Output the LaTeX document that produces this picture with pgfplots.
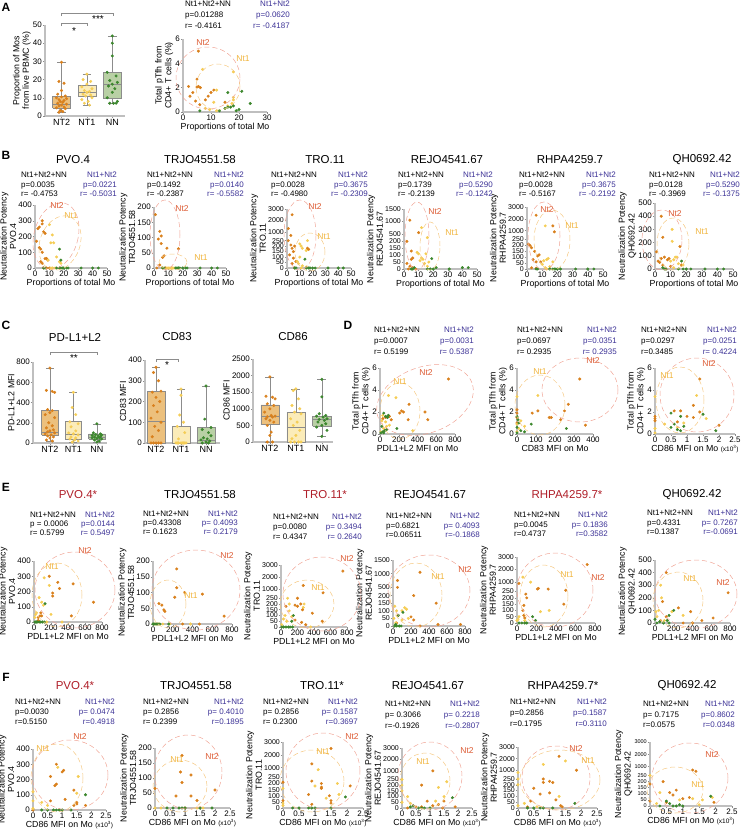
\documentclass[border=0pt]{standalone}
\usepackage{pgfplots}
\pgfplotsset{compat=1.18}
\usepackage{fontspec}
\setmainfont{Liberation Sans}
\definecolor{nt2c}{RGB}{217,128,28}
\definecolor{nt1c}{RGB}{245,205,85}
\definecolor{nnc}{RGB}{60,135,45}
\definecolor{nt2box}{RGB}{236,192,125}
\definecolor{nt1box}{RGB}{251,236,185}
\definecolor{nnbox}{RGB}{185,208,165}
\definecolor{bluec}{RGB}{60,50,150}
\definecolor{tred}{RGB}{175,30,40}
\definecolor{nt2ell}{RGB}{240,165,150}
\definecolor{nt1ell}{RGB}{245,200,130}
\definecolor{nt2lab}{RGB}{220,90,50}
\definecolor{nt1lab}{RGB}{240,180,60}
\pgfplotsset{
 base/.style={scale only axis, anchor=south west, clip=false,
   axis x line*=bottom, axis y line*=left,
   axis line style={-, draw=black!25, line width=1.1pt},
   major tick style={draw=black!45, line width=0.5pt}, tick align=outside, major tick length=2pt,
   tick label style={font=\fontsize{8}{8}\selectfont, inner sep=1pt},
   label style={font=\fontsize{8.8}{9.6}\selectfont},
   ylabel style={align=center, inner sep=1pt}, xlabel style={inner sep=1pt},
   /pgf/number format/assume math mode=true,
   /pgf/number format/1000 sep={},
   scaled ticks=false},
 sc/.style={base, xmin=0, ymin=0},
 s2/.style={only marks, mark=*, mark size=1.3pt, color=nt2c, mark options={solid, fill=nt2c, draw=nt2c}},
 s1/.style={only marks, mark=*, mark size=1.3pt, color=nt1c, mark options={solid, fill=nt1c, draw=nt1c}},
 s0/.style={only marks, mark=*, mark size=1.3pt, color=nnc, mark options={solid, fill=nnc, draw=nnc}},
 brk/.style 2 args={
   y coord trafo/.code={\pgfmathparse{(##1<#1)?(##1):(#1+(##1-#1)*#2)}},
   y coord inv trafo/.code={\pgfmathparse{(##1<#1)?(##1):(#1+(##1-#1)/#2)}},
   y tick label style={font=\fontsize{7}{7}\selectfont}},
 bx/.style={draw=black!45, line width=0.5pt, no marks},
}
% box: position, lower whisker, lower quartile, median, upper quartile, upper whisker, fill
\newcommand{\bxp}[7]{%
 \pgfmathsetmacro\bxl{#1-0.35}\pgfmathsetmacro\bxr{#1+0.35}\pgfmathsetmacro\bcl{#1-0.17}\pgfmathsetmacro\bcr{#1+0.17}%
 \edef\bxdo{%
 \noexpand\addplot[bx, fill=#7] coordinates {(\bxl,#3) (\bxr,#3) (\bxr,#5) (\bxl,#5) (\bxl,#3)};
 \noexpand\addplot[bx] coordinates {(\bxl,#4) (\bxr,#4)};
 \noexpand\addplot[bx] coordinates {(#1,#2) (#1,#3)};
 \noexpand\addplot[bx] coordinates {(#1,#5) (#1,#6)};
 \noexpand\addplot[bx] coordinates {(\bcl,#2) (\bcr,#2)};
 \noexpand\addplot[bx] coordinates {(\bcl,#6) (\bcr,#6)};}\bxdo}
\newcommand{\stats}[8]{%
 \node[anchor=north west, align=left, inner sep=0pt, font=\fontsize{8}{#4}\selectfont] at (#1pt,-#2pt) {Nt1+Nt2+NN\\#5\\#6};
 \node[anchor=north east, align=right, inner sep=0pt, text=bluec, font=\fontsize{8}{#4}\selectfont] at (#3pt,-#2pt) {Nt1+Nt2\\#7\\#8};}
\newcommand{\ellip}[6]{\draw[#6, dash pattern=on 5pt off 3pt, line width=0.5pt, rotate around={#5:(#1pt,-#2pt)}] (#1pt,-#2pt) ellipse ({#3pt} and {#4pt});}
\newcommand{\labA}[2]{\node[text=nt2lab, font=\fontsize{8.5}{9}\selectfont] at (#1pt,-#2pt) {Nt2};}
\newcommand{\labB}[2]{\node[text=nt1lab, font=\fontsize{8.5}{9}\selectfont] at (#1pt,-#2pt) {Nt1};}
\newcommand{\ttl}[4][black]{\node[text=#1, font=\fontsize{11.5}{12}\selectfont] at (#2pt,-#3pt) {#4};}
\newcommand{\letter}[3]{\node[font=\bfseries\fontsize{12}{12}\selectfont] at (#1pt,-#2pt) {#3};}
\newcommand{\cdl}{CD86 MFI on Mo {\fontsize{6.5}{7}\selectfont(x10\textsuperscript{3})}}
\begin{document}
\begin{tikzpicture}
\useasboundingbox (0pt,0pt) rectangle (740pt,-838pt);
% ---------------- A ----------------
\letter{6}{7}{A}
\begin{axis}[base, at={(45pt,-116pt)}, width=80pt, height=91pt, xmin=0.35, xmax=3.5, ymin=0, ymax=50,
  xtick={1,2,3}, xticklabels={NT2,NT1,NN}, ytick={0,10,...,50},
  x tick label style={font=\fontsize{9}{9}\selectfont},
  ylabel={Proportion of Mos\\from live PBMC (\%)}]
\bxp{1}{2}{4.4}{6.2}{10.8}{29.5}{nt2box}
\bxp{2}{6}{11}{13}{16.8}{23}{nt1box}
\bxp{3}{7}{10}{17.5}{24}{44}{nnbox}
\addplot[s2] coordinates {(1,29.5) (0.9,19) (1.1,18) (1,14) (0.85,12) (1.15,11) (1,10.5) (0.8,10) (1.2,9.5) (0.9,9) (1.1,8.5) (0.95,8) (1.05,7.5) (0.85,7) (1.2,6.5) (1,6) (0.9,5.5) (1.1,5) (0.8,4.5) (1.15,4) (0.95,3) (1.05,2.5) (0.9,2)};
\addplot[s1] coordinates {(2,23) (1.85,20) (2.15,19) (2,17.5) (1.8,16) (2.2,15) (1.9,14) (2.1,13.5) (2,13) (1.85,12) (2.15,11.5) (1.95,11) (2.2,10) (1.8,9) (2.05,8) (1.9,7) (2.1,6)};
\addplot[s0] coordinates {(3,44) (3,40) (3,33) (2.8,24) (3.15,22) (2.9,19.5) (3.2,18.5) (3,17.5) (2.85,16.5) (3.1,15) (3,13) (2.8,10) (3.2,8) (2.9,7) (3.05,7) (3.15,7)};
\end{axis}
\draw[black!45, line width=0.5pt] (61pt,-16pt) -- (61pt,-13pt) -- (113pt,-13pt) -- (113pt,-16pt);
\node[font=\fontsize{10}{10}\selectfont] at (98pt,-19pt) {***};
\draw[black!45, line width=0.5pt] (61pt,-26pt) -- (61pt,-23pt) -- (87pt,-23pt) -- (87pt,-26pt);
\node[font=\fontsize{10}{10}\selectfont] at (74pt,-31pt) {*};
\stats{185}{1}{290}{10.7}{p=0.01288}{r= -0.4161}{p=0.0620}{r= -0.4187}
\begin{axis}[sc, at={(183pt,-112pt)}, width=84pt, height=73pt, xmax=30, ymax=6, xtick={0,10,20,30}, ytick={0,2,4,6},
  xlabel={Proportions of total Mo}, ylabel={Total pTfh from\\CD4+ T cells (\%)}]
\addplot[s2] coordinates {(5.5,5) (5,2.7) (5,2.05) (5.5,2.1) (6.2,2.0) (2,2.1) (3.5,1.6) (2.5,1.3) (4.5,0.9) (9,1.3) (10,1.6) (11,1.8) (8,1.0) (6,0.6) (15,0.8)};
\addplot[s1] coordinates {(7,3.5) (18,3.3) (12,1.8) (18,1.2) (18,1.0) (17.5,0.7) (15,0.3) (12,0.1) (9.5,0.2) (8,0.3) (16,0.5) (11,0.8)};
\addplot[s0] coordinates {(16,1.6) (21,1.7) (24,0.7) (18,0.5) (17,0.4) (16,0.4) (15,0.3) (19,0.1) (6,0.1) (13,0.1) (20,0.2)};
\end{axis}
\ellip{208}{78}{32}{31}{0}{nt2ell}\ellip{218}{87}{22}{23}{0}{nt1ell}
\labA{203}{43}\labB{243}{59}
% ---------------- B ----------------
\letter{6}{155}{B}
\ttl{73}{160}{PVO.4}\ttl{200}{160}{TRJO4551.58}\ttl{325}{160}{TRO.11}\ttl{447}{160}{REJO4541.67}\ttl{570}{160}{RHPA4259.7}\ttl{702}{160}{QH0692.42}
\stats{21}{172}{117}{9.3}{p=0.0035}{r= -0.4753}{p=0.0221}{r= -0.5031}
\stats{147}{172}{244}{9.3}{p=0.1492}{r= -0.2387}{p=0.0140}{r= -0.5582}
\stats{271}{172}{368}{9.3}{p=0.0028}{r= -0.4980}{p=0.3675}{r= -0.2309}
\stats{398}{172}{493}{9.3}{p=0.1739}{r= -0.2139}{p=0.5290}{r= -0.1242}
\stats{519}{172}{616}{9.3}{p=0.0028}{r= -0.5167}{p=0.3675}{r= -0.2192}
\stats{649}{172}{740}{9.3}{p=0.0128}{r= -0.3969}{p=0.5290}{r= -0.1375}
\begin{axis}[sc, at={(35pt,-268pt)}, width=72pt, height=63pt, xmax=50, ymax=400, xtick={0,10,...,50}, ytick={0,100,...,400},
  xlabel={Proportions of total Mo}, ylabel={Neutralization Potency\\PVO.4}]
\addplot[s2] coordinates {(2,250) (3,260) (5,300) (5,280) (6,230) (7,220) (1,170) (3,130) (4,120) (5,100) (7,60) (8,60) (9,50) (4,40) (5,30) (10,0) (6,0) (8,0)};
\addplot[s1] coordinates {(10,275) (12,210) (11,160) (13,160) (15,70) (17,40) (18,30) (11,0) (14,0) (9,50) (12,0)};
\addplot[s0] coordinates {(17,120) (18,50) (15,0) (17,0) (18,0) (19,0) (20,0) (22,0) (23,0) (32,0) (40,0) (44,0) (6,0) (7,0)};
\end{axis}
\begin{axis}[sc, at={(154pt,-268pt)}, width=72pt, height=61pt, xmax=50, ymax=200, xtick={0,10,...,50}, ytick={0,50,...,200},
  xlabel={Proportions of total Mo}, ylabel={Neutralization Potency\\TRJO4551.58}]
\addplot[s2] coordinates {(1,175) (4,120) (5,105) (3,95) (5,80) (9,65) (17,63) (7,40) (6,35) (4,10) (2,0) (8,0) (12,0)};
\addplot[s1] coordinates {(9,0) (10,0) (11,0) (12,0) (14,0) (6,0) (13,0)};
\addplot[s0] coordinates {(15,0) (16,0) (17,0) (18,0) (20,0) (22,0) (23,0) (32,0) (40,0) (44,0) (6,0) (7,0)};
\end{axis}
\begin{axis}[sc, brk={250}{0.105}, at={(287pt,-268pt)}, width=64pt, height=59pt, xmax=50, ymax=3000, xtick={0,10,...,50},
  ytick={0,50,100,150,200,250,1000,2000,3000}, yticklabels={0,50,100,150,200,250,1000,2000,3000},
  xlabel={Proportions of total Mo}, ylabel={Neutralization Potency\\TRO.11}]
\addplot[s2] coordinates {(4,2500) (1,1300) (3,700) (1,250) (3,210) (4,180) (6,200) (5,150) (2,120) (5,90) (7,60) (4,40) (16,180) (17,170) (6,0)};
\addplot[s1] coordinates {(10,220) (11,200) (16,250) (12,180) (15,160) (10,100) (8,60) (9,40) (12,20) (15,10) (11,0)};
\addplot[s0] coordinates {(14,80) (15,0) (17,0) (18,0) (20,0) (22,0) (32,0) (40,0) (44,0) (6,0) (7,0)};
\end{axis}
\begin{axis}[sc, brk={200}{0.18}, at={(404pt,-269pt)}, width=73pt, height=60pt, xmax=50, ymax=1500, xtick={0,10,...,50},
  ytick={0,50,100,150,200,500,1000,1500}, yticklabels={0,50,100,150,200,500,1000,1500},
  xlabel={Proportions of total Mo}, ylabel={Neutralization Potency\\REJO4541.67}]
\addplot[s2] coordinates {(4,1050) (10,550) (2,200) (5,130) (6,80) (5,70) (2,40) (4,20) (6,10) (8,0) (3,0)};
\addplot[s1] coordinates {(12,750) (16,350) (9,120) (10,110) (15,110) (12,80) (13,70) (11,60) (14,40) (16,20) (17,50)};
\addplot[s0] coordinates {(19,75) (6,0) (7,10) (5,0) (16,0) (18,0) (20,0) (22,10) (31,0) (40,10) (44,10)};
\end{axis}
\begin{axis}[sc, brk={250}{0.1}, at={(527pt,-269pt)}, width=76pt, height=62pt, xmax=50, ymax=3000, xtick={0,10,...,50},
  ytick={0,50,100,150,200,250,1000,2000,3000}, yticklabels={0,50,100,150,200,250,1000,2000,3000},
  xlabel={Proportions of total Mo}, ylabel={Neutralization Potency\\RHPA4259.7}]
\addplot[s2] coordinates {(6,2300) (17,1400) (18,900) (1,210) (2,200) (3,180) (5,150) (8,120) (7,110) (4,80) (6,60) (9,60) (3,10) (6,5)};
\addplot[s1] coordinates {(12,1400) (14,90) (13,80) (11,70) (17,60) (10,40) (15,20) (12,10) (13,0)};
\addplot[s0] coordinates {(6,0) (7,0) (15,0) (17,0) (18,0) (19,0) (20,0) (22,0) (32,0) (40,0) (44,0)};
\end{axis}
\begin{axis}[sc, at={(655pt,-269pt)}, width=78pt, height=66pt, xmax=50, ymax=500, xtick={0,10,...,50}, ytick={0,100,...,500},
  xlabel={Proportions of total Mo}, ylabel={Neutralization Potency\\QH0692.42}]
\addplot[s2] coordinates {(4,400) (5,240) (1,130) (2,60) (3,50) (4,80) (6,90) (9,80) (8,70) (5,30) (10,20) (16,170) (17,30) (7,0)};
\addplot[s1] coordinates {(11,300) (11,210) (13,90) (12,70) (14,90) (18,30) (15,40) (10,60) (12,10)};
\addplot[s0] coordinates {(17,60) (5,10) (6,0) (7,0) (15,0) (18,0) (20,0) (23,0) (32,0) (40,0) (44,0)};
\end{axis}
\ellip{56}{236}{22}{34}{-15}{nt2ell}\ellip{60}{243}{20}{28}{-20}{nt1ell}\labA{57}{206}\labB{71}{216}
\ellip{165}{235}{15}{35}{0}{nt2ell}\ellip{173}{262}{14}{8}{0}{nt1ell}\labA{182}{209}\labB{201}{258}
\ellip{300}{235}{16}{35}{0}{nt2ell}\ellip{310}{252}{15}{19}{0}{nt1ell}\labA{315}{207}\labB{324}{237}
\ellip{417}{236}{12}{34}{0}{nt2ell}\ellip{430}{246}{10}{24}{0}{nt1ell}\labA{435}{212}\labB{452}{233}
\ellip{544}{236}{16}{34}{0}{nt2ell}\ellip{552}{240}{18}{30}{0}{nt1ell}\labA{547}{210}\labB{572}{226}
\ellip{662}{240}{20}{30}{0}{nt2ell}\ellip{673}{244}{16}{26}{0}{nt1ell}\labA{675}{214}\labB{702}{232}
% ---------------- C ----------------
\letter{6}{325}{C}
\ttl{75}{337}{PD-L1+L2}\ttl{177}{337}{CD83}\ttl{293}{337}{CD86}
\begin{axis}[base, at={(33pt,-443pt)}, width=74pt, height=81pt, xmin=0.28, xmax=3.43, ymin=0, ymax=800,
  xtick={1,2,3}, xticklabels={NT2,NT1,NN}, ytick={0,200,...,800}, x tick label style={font=\fontsize{9}{9}\selectfont},
  ylabel={PD-L1+L2 MFI}]
\bxp{1}{15}{80}{110}{320}{740}{nt2box}
\bxp{2}{10}{40}{90}{210}{500}{nt1box}
\bxp{3}{10}{40}{60}{90}{190}{nnbox}
\addplot[s2] coordinates {(1,740) (0.85,520) (1.1,510) (1.2,500) (0.9,330) (1.1,320) (1,300) (0.8,280) (1.2,250) (0.95,200) (1.1,170) (0.85,150) (1.15,130) (1,120) (0.9,110) (1.2,100) (0.8,90) (1.05,80) (0.9,70) (1.15,60) (1,50) (0.85,30) (1.1,20)};
\addplot[s1] coordinates {(2,500) (1.95,350) (2.1,280) (1.85,210) (2.2,190) (1.9,160) (2.1,120) (1.8,100) (2,90) (2.2,80) (1.9,60) (2.1,50) (1.85,40) (2.05,30) (2.2,20) (1.95,10)};
\addplot[s0] coordinates {(3,190) (2.85,100) (3.15,90) (2.95,85) (3.2,80) (2.8,75) (3.05,70) (3.15,65) (2.9,60) (3.1,55) (2.8,50) (3,45) (3.2,40) (2.9,30) (3.1,20) (3,10)};
\end{axis}
\draw[black!45, line width=0.5pt] (50pt,-355pt) -- (50pt,-352pt) -- (97pt,-352pt) -- (97pt,-355pt);
\node[font=\fontsize{10}{10}\selectfont] at (74pt,-358pt) {**};
\begin{axis}[base, at={(145pt,-443pt)}, width=75pt, height=83pt, xmin=0.56, xmax=3.56, ymin=0, ymax=400,
  xtick={1,2,3}, xticklabels={NT2,NT1,NN}, ytick={0,100,...,400}, x tick label style={font=\fontsize{9}{9}\selectfont},
  ylabel={CD83 MFI}]
\bxp{1}{0}{0}{105}{248}{365}{nt2box}
\bxp{2}{0}{0}{0}{80}{260}{nt1box}
\bxp{3}{0}{0}{15}{75}{275}{nnbox}
\addplot[s2] coordinates {(1,365) (0.9,340) (1.1,300) (1.2,250) (0.85,245) (1,220) (1.15,200) (0.9,180) (1.05,150) (0.8,120) (1.2,100) (0.95,80) (1.1,60) (0.85,30) (0.8,0) (0.9,0) (1,0) (1.1,0) (1.2,0)};
\addplot[s1] coordinates {(2,260) (2,230) (1.95,135) (2.1,100) (1.85,80) (2.15,50) (1.9,20) (1.8,0) (1.9,0) (2,0) (2.1,0) (2.2,0) (1.85,0) (2.05,0) (2.15,0)};
\addplot[s0] coordinates {(3,275) (2.95,115) (3.2,75) (2.85,65) (3.1,50) (3.2,35) (2.9,25) (3.05,20) (2.8,15) (3.15,10) (3,5) (2.85,0) (3.1,0)};
\end{axis}
\draw[black!45, line width=0.5pt] (156pt,-362pt) -- (156pt,-359pt) -- (178pt,-359pt) -- (178pt,-362pt);
\node[font=\fontsize{10}{10}\selectfont] at (167pt,-365pt) {*};
\begin{axis}[base, at={(253pt,-442pt)}, width=80pt, height=83pt, xmin=0.35, xmax=3.43, ymin=0, ymax=2500,
  xtick={1,2,3}, xticklabels={NT2,NT1,NN}, ytick={0,500,...,2500}, x tick label style={font=\fontsize{9}{9}\selectfont},
  ylabel={CD86 MFI}]
\bxp{1}{0}{520}{770}{1120}{1960}{nt2box}
\bxp{2}{0}{0}{430}{900}{1600}{nt1box}
\bxp{3}{160}{480}{680}{780}{1890}{nnbox}
\addplot[s2] coordinates {(1,1960) (0.85,1380) (1.1,1350) (1.2,1300) (0.9,1150) (1.15,1100) (1,1000) (0.8,900) (1.05,800) (1.2,780) (0.9,760) (1.1,750) (0.85,700) (1,650) (1.15,600) (0.9,500) (1.05,300) (1,200) (0.9,0) (1.1,0)};
\addplot[s1] coordinates {(2,1600) (1.9,1550) (2.1,1300) (1.85,1100) (2.15,1000) (1.95,900) (2.2,850) (1.8,700) (2.05,600) (1.9,500) (2.15,350) (2,200) (1.85,100) (1.8,0) (1.95,0) (2.1,0) (2.2,0)};
\addplot[s0] coordinates {(3,1890) (3,1360) (2.9,850) (3.15,800) (2.8,780) (3.05,750) (3.2,700) (2.9,680) (3.1,650) (2.85,600) (3.15,550) (3,500) (2.8,450) (3.2,350) (3,170)};
\end{axis}
% ---------------- D ----------------
\letter{348}{325}{D}
\stats{374}{327}{474}{11}{p=0.0007}{r= 0.5199}{p=0.0031}{r= 0.5387}
\stats{517}{327}{617}{11}{p=0.0697}{r= 0.2935}{p=0.0351}{r= 0.2935}
\stats{641}{327}{737}{11}{p=0.0297}{r=0.3485}{p=0.0251}{r= 0.4224}
\begin{axis}[sc, at={(380pt,-434pt)}, width=75pt, height=66pt, xmax=800, ymax=6, xtick={0,200,...,800}, ytick={0,2,4,6},
  xlabel={PDL1+L2 MFI on Mo}, ylabel={Total pTfh from\\CD4+ T cells (\%)}]
\addplot[s2] coordinates {(730,5) (310,2.7) (230,2.1) (250,2.0) (210,1.9) (100,1.6) (60,1.5) (480,2.0) (510,1.3) (300,1.3) (120,1.3) (30,1.4)};
\addplot[s1] coordinates {(90,3.5) (170,3.3) (30,1.7) (20,1.2) (60,1.1) (80,1.6) (100,0.8) (350,0.3) (10,0.2) (40,0.5) (70,0.7)};
\addplot[s0] coordinates {(40,1.9) (60,1.6) (90,1.7) (80,1.5) (20,0.7) (180,0.5) (50,0.3) (30,0.2) (70,0.4) (10,0.1) (40,0.1)};
\end{axis}
\begin{axis}[sc, at={(517pt,-434pt)}, width=76pt, height=66pt, xmax=400, ymax=6, xtick={0,100,...,400}, ytick={0,2,4,6},
  xlabel={CD83 MFI on Mo}, ylabel={Total pTfh from\\CD4+ T cells (\%)}]
\addplot[s2] coordinates {(330,5) (270,2.7) (250,2.1) (110,2.1) (80,1.9) (180,1.5) (170,1.5) (230,1.3) (360,0.8) (0,2.2) (0,1.9) (0,1.5) (0,1.0)};
\addplot[s1] coordinates {(0,3.4) (110,3.5) (20,1.2) (40,0.7) (0,0.9) (10,0.5) (0,0.2)};
\addplot[s0] coordinates {(0,1.6) (5,1.3) (10,1.0) (75,0.9) (0,0.6) (20,0.3) (260,0.5) (0,0.1) (40,0.2)};
\end{axis}
\begin{axis}[sc, at={(655pt,-434pt)}, width=80pt, height=66pt, xmax=2.5, ymax=6, xtick={0,0.5,...,2.5}, ytick={0,2,4,6},
  xlabel={\cdl}, ylabel={Total pTfh from\\CD4+ T cells (\%)}]
\addplot[s2] coordinates {(1.4,5) (1.2,2.6) (0.6,2.1) (0.8,2.1) (1.4,2.0) (1.0,1.6) (1.2,1.5) (2.0,0.8) (0.7,1.1) (0,1.4) (0,1.2) (0,1.6)};
\addplot[s1] coordinates {(0,3.4) (1.3,3.5) (1.6,1.4) (0.3,0.9) (0.9,1.0) (0,0.5) (0,0.1) (0.7,0.6)};
\addplot[s0] coordinates {(0.5,1.9) (0.8,1.6) (1.5,1.8) (0.5,0.6) (0.7,0.4) (0.6,0.9) (1.9,0.3) (0.8,0.3) (0.9,0.7)};
\end{axis}
\ellip{425}{400}{50}{33}{20}{nt2ell}\ellip{400}{411}{20}{28}{0}{nt1ell}\labA{426}{373}\labB{400}{382}
\ellip{580}{390}{38}{32}{0}{nt2ell}\ellip{540}{405}{25}{30}{0}{nt1ell}\labA{593}{361}\labB{540}{372}
\ellip{697}{395}{37}{37}{0}{nt2ell}\ellip{680}{400}{24}{33}{0}{nt1ell}\labA{709}{364}\labB{667}{376}
% ---------------- E ----------------
\letter{6}{487}{E}
\ttl[tred]{78}{495}{PVO.4*}\ttl{200}{495}{TRJO4551.58}\ttl[tred]{325}{495}{TRO.11*}\ttl{430}{495}{REJO4541.67}\ttl[tred]{567}{495}{RHPA4259.7*}\ttl{692}{495}{QH0692.42}
\stats{30}{512}{115}{9}{p = 0.0006}{r= 0.5799}{p=0.0144}{r= 0.5497}
\stats{143}{511}{238}{9}{p=0.43308}{r= 0.1623}{p= 0.4093}{r= 0.2179}
\stats{273}{514}{362}{10}{p=0.0080}{r= 0.4347}{p= 0.3494}{r= 0.2640}
\stats{386}{513}{480}{9.5}{p=0.6821}{r=0.06511}{p= 0.4093}{r=-0.1868}
\stats{514}{512}{608}{9.5}{p=0.0045}{r=0.4737}{p= 0.1836}{r=0.3582}
\stats{647}{510}{738}{9.5}{p=0.4331}{r=0.1387}{p= 0.7267}{r=-0.0691}
\begin{axis}[sc, at={(34pt,-622pt)}, width=68pt, height=61pt, xmax=800, ymax=400, xtick={0,200,...,800}, ytick={0,100,...,400},
  xlabel={PDL1+L2 MFI on Mo}, ylabel={Neutralization Potency\\PVO.4}]
\addplot[s2] coordinates {(180,300) (280,260) (300,220) (220,190) (220,170) (460,250) (700,130) (440,40) (80,60) (70,40) (50,30) (90,40) (50,10) (60,0)};
\addplot[s1] coordinates {(120,290) (180,240) (60,160) (90,130) (110,110) (30,60) (20,50) (10,30) (200,50) (330,0) (150,0)};
\addplot[s0] coordinates {(130,120) (20,0) (40,0) (60,0) (80,0) (100,0) (10,0) (30,0) (120,0)};
\end{axis}
\begin{axis}[sc, at={(153pt,-624pt)}, width=79pt, height=63pt, xmax=800, ymax=200, xtick={0,200,...,800}, ytick={0,50,...,200},
  xlabel={PDL1+L2 MFI on Mo}, ylabel={Neutralization Potency\\TRJO4551.58}]
\addplot[s2] coordinates {(240,175) (240,115) (320,100) (220,85) (500,95) (60,65) (90,60) (110,45) (120,40) (720,25) (40,0) (300,0) (470,0)};
\addplot[s1] coordinates {(20,0) (100,0) (170,0) (380,0) (60,0)};
\addplot[s0] coordinates {(0,0) (10,0) (30,0) (50,0) (70,0) (160,0)};
\end{axis}
\begin{axis}[sc, brk={250}{0.105}, at={(281pt,-627pt)}, width=66pt, height=62pt, xmax=800, ymax=3000, xtick={0,200,...,800},
  ytick={0,50,100,150,200,250,1000,2000,3000}, yticklabels={0,50,100,150,200,250,1000,2000,3000},
  xlabel={PDL1+L2 MFI on Mo}, ylabel={Neutralization Potency\\TRO.11}]
\addplot[s2] coordinates {(750,2500) (270,1300) (510,700) (200,250) (240,200) (200,180) (170,190) (260,150) (380,120) (170,60) (250,40) (500,50) (300,20) (60,180)};
\addplot[s1] coordinates {(80,250) (100,200) (280,200) (270,170) (100,140) (50,100) (30,70) (70,50) (10,20) (360,0) (130,90)};
\addplot[s0] coordinates {(130,50) (150,100) (30,0) (60,0) (90,0) (110,0) (140,0) (10,0)};
\end{axis}
\begin{axis}[sc, brk={200}{0.18}, at={(393pt,-626pt)}, width=72pt, height=66pt, xmax=800, ymax=1500, xtick={0,200,...,800},
  ytick={0,50,100,150,200,500,1000,1500}, yticklabels={0,50,100,150,200,500,1000,1500},
  xlabel={PDL1+L2 MFI on Mo}, ylabel={Neutralization Potency\\REJO4541.67}]
\addplot[s2] coordinates {(300,1050) (480,150) (230,200) (50,500) (50,750) (200,60) (230,40) (300,0) (500,10) (750,10) (40,20)};
\addplot[s1] coordinates {(130,120) (100,100) (20,130) (40,100) (50,70) (100,40) (30,20) (170,50) (10,50) (150,110)};
\addplot[s0] coordinates {(60,70) (110,90) (20,0) (40,0) (70,0) (90,0) (30,10)};
\end{axis}
\begin{axis}[sc, brk={250}{0.1}, at={(517pt,-623pt)}, width=78pt, height=66pt, xmax=800, ymax=3000, xtick={0,200,...,800},
  ytick={0,50,100,150,200,250,1000,2000,3000}, yticklabels={0,50,100,150,200,250,1000,2000,3000},
  xlabel={PDL1+L2 MFI on Mo}, ylabel={Neutralization Potency\\RHPA4259.7}]
\addplot[s2] coordinates {(720,2400) (220,500) (320,450) (210,460) (500,350) (480,150) (60,100) (70,140) (90,230) (70,60) (80,40) (20,900) (100,200)};
\addplot[s1] coordinates {(60,1400) (140,1000) (330,100) (240,90) (20,50) (10,30) (80,20) (0,20)};
\addplot[s0] coordinates {(160,50) (190,20) (20,0) (50,0) (80,0) (100,0)};
\end{axis}
\begin{axis}[sc, at={(655pt,-623pt)}, width=75pt, height=63pt, xmax=800, ymax=500, xtick={0,200,...,800}, ytick={0,100,...,500},
  xlabel={PDL1+L2 MFI on Mo}, ylabel={Neutralization Potency\\QH0692.42}]
\addplot[s2] coordinates {(120,400) (780,240) (80,170) (250,120) (380,90) (500,20) (620,40) (120,50) (60,20) (300,0) (400,0)};
\addplot[s1] coordinates {(60,300) (70,200) (40,100) (180,90) (300,60) (10,90) (100,20) (20,50)};
\addplot[s0] coordinates {(0,30) (200,100) (150,60) (130,20) (50,10) (90,0) (20,0) (150,0)};
\end{axis}
\ellip{75}{590}{40}{38}{0}{nt2ell}\ellip{57}{595}{25}{32}{0}{nt1ell}\labA{85}{551}\labB{52}{567}
\ellip{196}{590}{44}{40}{0}{nt2ell}\ellip{168}{604}{18}{24}{0}{nt1ell}\labA{227}{556}\labB{191}{596}
\ellip{322}{594}{39}{37}{0}{nt2ell}\ellip{307}{604}{27}{24}{0}{nt1ell}\labA{347}{559}\labB{318}{588}
\ellip{429}{591}{41}{36}{0}{nt2ell}\ellip{416}{595}{26}{32}{0}{nt1ell}\labA{465}{570}\labB{438}{577}
\ellip{555}{590}{38}{37}{0}{nt2ell}\ellip{544}{596}{24}{31}{0}{nt1ell}\labA{598}{578}\labB{567}{575}
\ellip{696}{594}{41}{34}{0}{nt2ell}\ellip{678}{600}{25}{28}{0}{nt1ell}\labA{723}{583}\labB{690}{579}
% ---------------- F ----------------
\letter{6}{677}{F}
\ttl[tred]{75}{686}{PVO.4*}\ttl{196}{686}{TRJO4551.58}\ttl{322}{686}{TRO.11*}\ttl{428}{686}{REJO4541.67}\ttl{563}{686}{RHPA4259.7*}\ttl{687}{686}{QH0692.42}
\stats{15}{699}{115}{10}{p=0.0030}{r=0.5150}{p= 0.0474}{r=0.4918}
\stats{143}{699}{244}{10}{p= 0.2856}{r= 0.2399}{p= 0.4010}{r=0.1895}
\stats{263}{699}{358}{10}{p= 0.2856}{r= 0.2300}{p= 0.1587}{r=0.3697}
\stats{385}{701}{480}{11}{p= 0.3066}{r=-0.1926}{p= 0.2218}{r=-0.2807}
\stats{510}{699}{607}{11}{p=0.2856}{r=0.1795}{p=0.1587}{r=0.3110}
\stats{643}{701}{735}{10.5}{p= 0.7175}{r=0.0575}{p=0.8602}{r=0.0348}
\begin{axis}[sc, at={(33pt,-810pt)}, width=73pt, height=61pt, xmax=2.5, ymax=400, xtick={0,0.5,...,2.5}, ytick={0,100,...,400},
  xlabel={\cdl}, ylabel={Neutralization Potency\\PVO.4}]
\addplot[s2] coordinates {(0.8,300) (1.05,260) (1.0,250) (0.6,220) (0.8,170) (0.75,160) (1.4,130) (1.1,70) (1.5,40) (1.4,30) (1.8,30) (0.6,60) (1.5,50) (0,0)};
\addplot[s1] coordinates {(0.85,280) (1.55,220) (1.5,110) (0,120) (0,60) (0.3,50) (0.5,30) (0,10)};
\addplot[s0] coordinates {(1.8,100) (0.5,0) (0.8,0) (0.9,0) (1.3,0) (0.3,0) (1.0,0) (0.7,0)};
\end{axis}
\begin{axis}[sc, at={(155pt,-808pt)}, width=75pt, height=60pt, xmax=2.5, ymax=200, xtick={0,0.5,...,2.5}, ytick={0,50,...,200},
  xlabel={\cdl}, ylabel={Neutralization Potency\\TRJO4551.58}]
\addplot[s2] coordinates {(0.9,175) (0.85,120) (1.2,110) (0.9,85) (2.0,60) (0.7,40) (1.2,40) (1.4,25) (0,65) (1.0,0)};
\addplot[s1] coordinates {(1.4,0) (0.2,0) (1.6,0) (0,0)};
\addplot[s0] coordinates {(0.6,0) (0.8,0) (0.9,0) (1.0,0) (0.4,0) (1.5,0) (1.9,0)};
\end{axis}
\begin{axis}[sc, brk={250}{0.105}, at={(283pt,-808pt)}, width=80pt, height=66pt, xmax=2.5, ymax=3000, xtick={0,0.5,...,2.5},
  ytick={0,50,100,150,200,250,1000,2000,3000}, yticklabels={0,50,100,150,200,250,1000,2000,3000},
  xlabel={\cdl}, ylabel={Neutralization Potency\\TRO.11}]
\addplot[s2] coordinates {(1.5,2500) (0.9,1300) (1.2,200) (0.9,220) (1.2,170) (1.2,160) (0.8,110) (1.45,100) (1.5,60) (2.1,180) (1.5,40) (0.9,30) (0,60) (0,210)};
\addplot[s1] coordinates {(1.1,850) (1.7,200) (0,160) (1.0,180) (1.75,110) (1.35,80) (0,40) (0,20)};
\addplot[s0] coordinates {(1.95,90) (0.3,0) (0.5,0) (0.8,0) (0.9,0) (1.0,0) (1.5,0)};
\end{axis}
\begin{axis}[sc, brk={250}{0.1}, at={(402pt,-808pt)}, width=70pt, height=60pt, xmax=2.5, ymax=3000, xtick={0,0.5,...,2.5},
  ytick={0,50,100,150,200,250,1000,2000,3000}, yticklabels={0,50,100,150,200,250,1000,2000,3000},
  xlabel={\cdl}, ylabel={Neutralization Potency\\REJO4541.67}]
\addplot[s2] coordinates {(1.1,1000) (0.7,200) (0.9,60) (1.5,60) (1.9,10) (1.1,20) (1.3,30) (0.5,10) (0.7,10) (1.45,0) (0.2,0)};
\addplot[s1] coordinates {(0,250) (0,200) (0,150) (1.3,180) (1.5,100) (1.6,230) (0.2,100) (0.3,40) (1.2,60) (0,50)};
\addplot[s0] coordinates {(1.8,90) (0.4,20) (0.6,0) (0.7,0) (0.8,0) (1.0,0) (0.3,10)};
\end{axis}
\begin{axis}[sc, brk={250}{0.1}, at={(518pt,-808pt)}, width=79pt, height=61pt, xmax=2.5, ymax=3000, xtick={0,0.5,...,2.5},
  ytick={0,50,100,150,200,250,1000,2000,3000}, yticklabels={0,50,100,150,200,250,1000,2000,3000},
  xlabel={\cdl}, ylabel={Neutralization Potency\\RHPA4259.7}]
\addplot[s2] coordinates {(1.3,2200) (1.85,1000) (0.8,250) (0.8,220) (0.5,170) (1.0,230) (1.1,220) (1.0,130) (1.2,70) (1.35,20) (0.7,120) (0.4,60) (0.3,10) (1.4,10)};
\addplot[s1] coordinates {(0.8,1500) (1.5,1800) (1.3,100) (0,800) (0,250) (0,200) (0.2,40) (0,20) (0.6,10)};
\addplot[s0] coordinates {(1.8,40) (0.3,0) (0.5,0) (0.7,0) (0.8,0) (1.1,0)};
\end{axis}
\begin{axis}[sc, brk={250}{0.1}, at={(650pt,-806pt)}, width=82pt, height=64pt, xmax=2.5, ymax=3000, xtick={0,0.5,...,2.5},
  ytick={0,50,100,150,200,250,1000,2000,3000}, yticklabels={0,50,100,150,200,250,1000,2000,3000},
  y tick label style={font=\fontsize{5.5}{6}\selectfont},
  xlabel={\cdl}, ylabel={Neutralization Potency\\QH0692.42}]
\addplot[s2] coordinates {(1.3,700) (1.4,600) (0.4,200) (0.6,110) (0.7,90) (0.8,130) (1.0,60) (1.2,70) (1.95,30) (0.5,30) (0,180) (0,40)};
\addplot[s1] coordinates {(0,250) (1.9,70) (1.3,60) (0.3,110) (1.6,50) (0.2,20) (0.9,50) (1.5,10)};
\addplot[s0] coordinates {(1.85,80) (0.5,40) (0.6,20) (0.7,0) (0.8,0) (1.0,0) (0.9,10) (0.3,0)};
\end{axis}
\ellip{70}{775}{38}{35}{0}{nt2ell}\ellip{57}{778}{26}{34}{0}{nt1ell}\labA{80}{737}\labB{43}{749}
\ellip{188}{772}{34}{37}{0}{nt2ell}\ellip{180}{786}{27}{26}{0}{nt1ell}\labA{212}{757}\labB{177}{760}
\ellip{323}{771}{37}{38}{0}{nt2ell}\ellip{312}{781}{32}{31}{0}{nt1ell}\labA{352}{737}\labB{323}{752}
\ellip{430}{776}{32}{34}{0}{nt2ell}\ellip{425}{781}{25}{28}{0}{nt1ell}\labA{467}{751}\labB{423}{762}
\ellip{556}{778}{34}{32}{0}{nt2ell}\ellip{560}{780}{40}{30}{0}{nt1ell}\labA{576}{749}\labB{588}{761}
\ellip{690}{778}{38}{35}{0}{nt2ell}\ellip{675}{790}{28}{23}{0}{nt1ell}\labA{712}{755}\labB{698}{785}
\end{tikzpicture}
\end{document}
